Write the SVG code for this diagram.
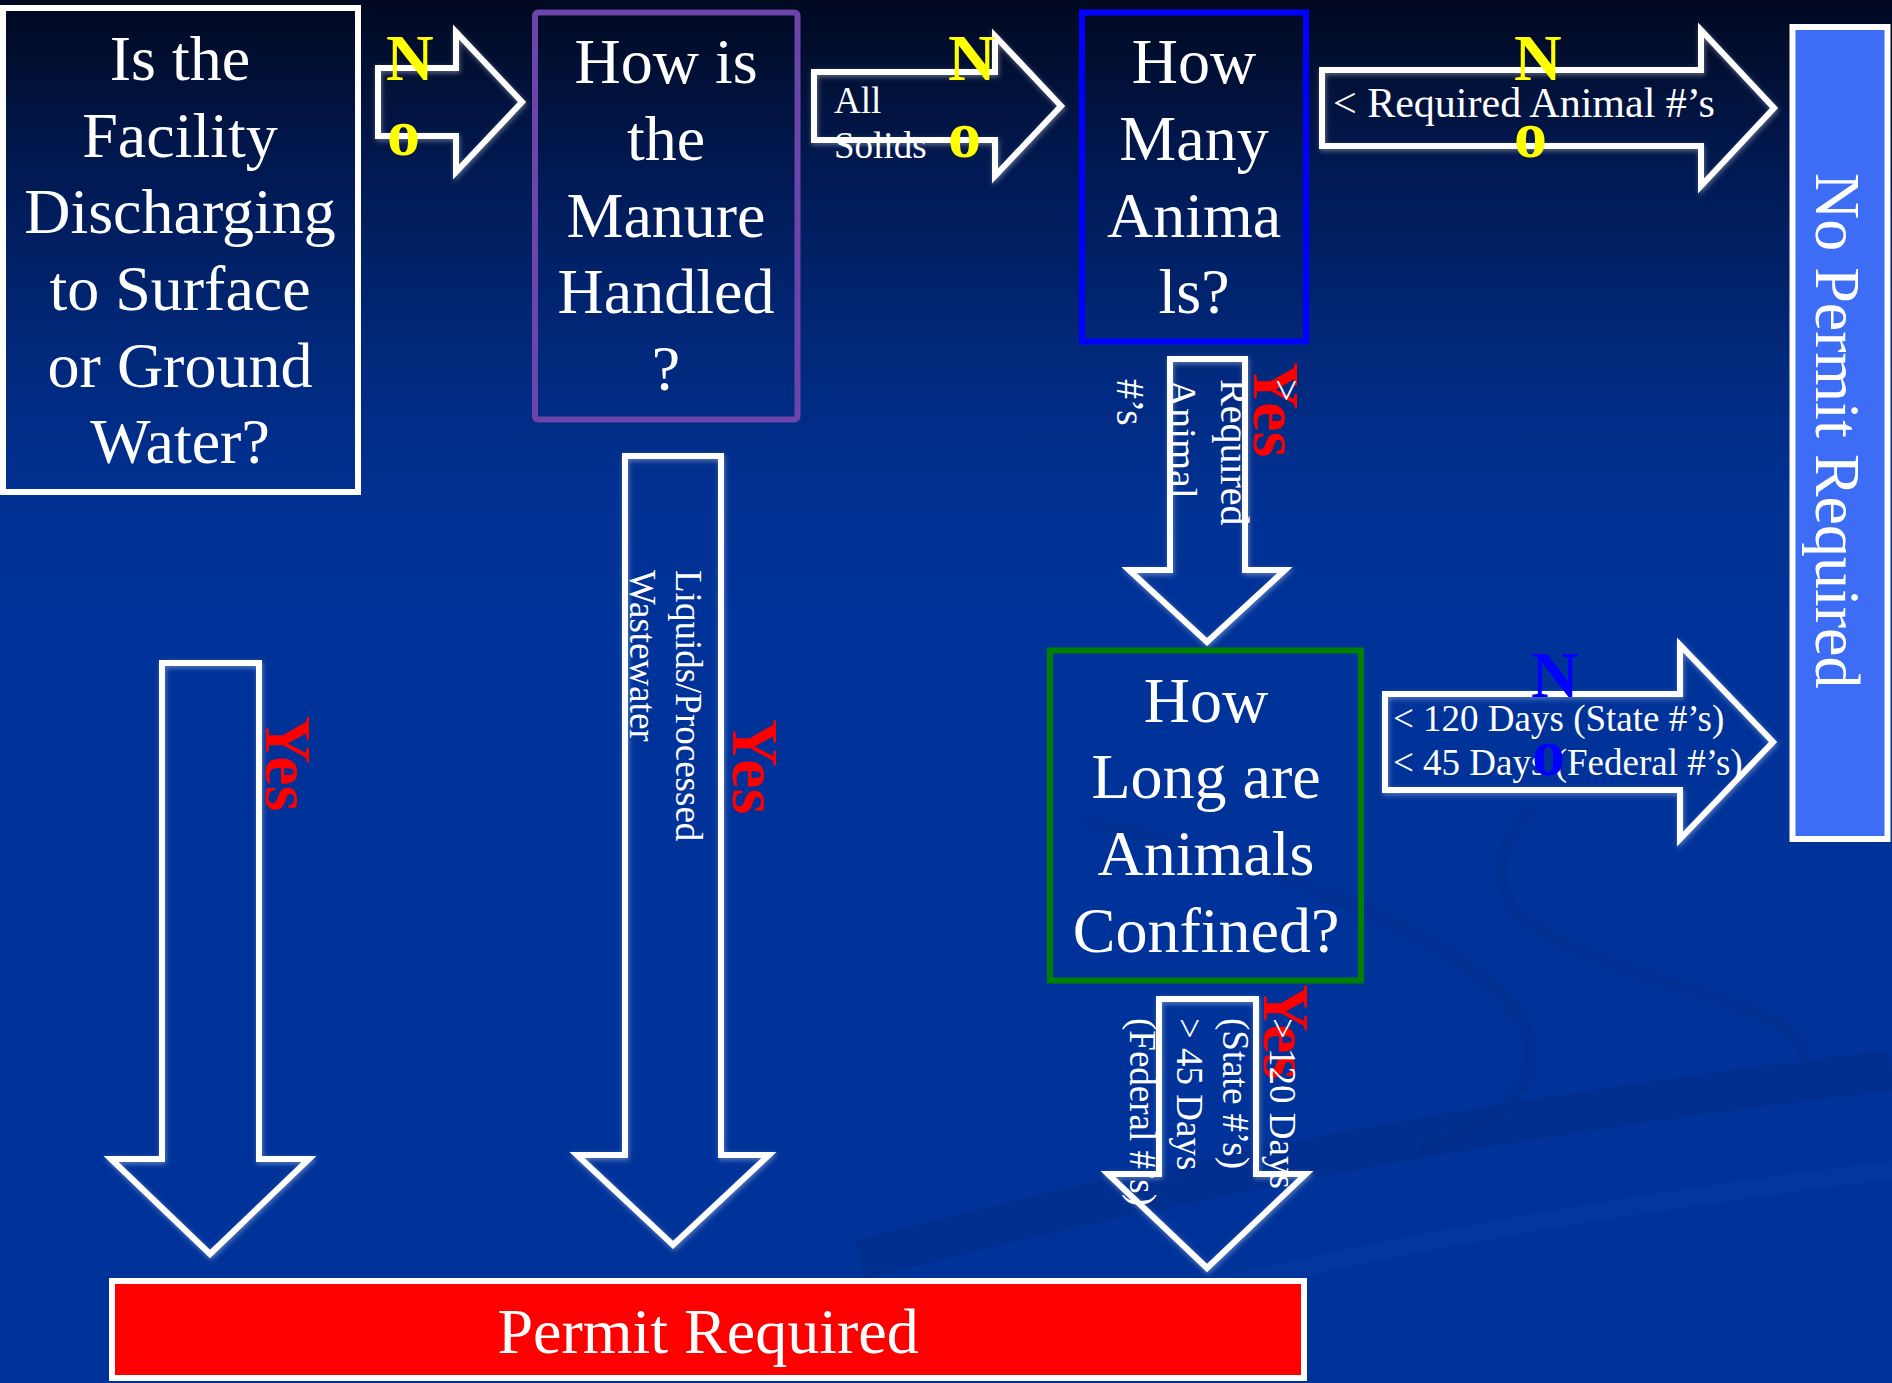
<svg xmlns="http://www.w3.org/2000/svg" width="1892" height="1383" viewBox="0 0 1892 1383">
<defs>
  <linearGradient id="bg" x1="0" y1="0" x2="0" y2="1383" gradientUnits="userSpaceOnUse">
    <stop offset="0" stop-color="#010920"/>
    <stop offset="0.13" stop-color="#011a55"/>
    <stop offset="0.26" stop-color="#01297c"/>
    <stop offset="0.36" stop-color="#003193"/>
    <stop offset="0.45" stop-color="#003399"/>
    <stop offset="1" stop-color="#003399"/>
  </linearGradient>
  <filter id="glow" x="-10%" y="-10%" width="120%" height="120%">
    <feGaussianBlur in="SourceAlpha" stdDeviation="2.5" result="b"/>
    <feOffset in="b" dx="1" dy="2" result="o"/>
    <feFlood flood-color="#ffffff" flood-opacity="0.35"/>
    <feComposite in2="o" operator="in" result="g"/>
    <feMerge><feMergeNode in="g"/><feMergeNode in="SourceGraphic"/></feMerge>
  </filter>
</defs>
<style>
  .arrow{fill:none;stroke:#ffffff;stroke-width:6;stroke-linejoin:miter;stroke-miterlimit:10}
  .q{font-family:"Liberation Serif","Times New Roman",serif;font-size:64px;fill:#ffffff;text-anchor:middle}
  .lbl{font-family:"Liberation Serif","Times New Roman",serif;fill:#ffffff}
  .no{font-family:"Liberation Serif","Times New Roman",serif;font-weight:bold;font-size:66px;fill:#ffff00}
  .noblue{font-family:"Liberation Serif","Times New Roman",serif;font-weight:bold;font-size:66px;fill:#0000ff}
  .yes{font-family:"Liberation Serif","Times New Roman",serif;font-weight:bold;font-size:66px;fill:#ff0000}
  .box{fill:none;stroke-width:6}
</style>

<rect x="0" y="0" width="1892" height="1383" fill="url(#bg)"/>
<g id="decor" fill="none">
  <path d="M 860 1260 C 1200 1170, 1550 1110, 1892 1070" stroke="#002a85" stroke-width="40" opacity="0.45"/>
  <path d="M 1120 1310 C 1400 1240, 1650 1200, 1892 1170" stroke="#0a40aa" stroke-width="18" opacity="0.35"/>
  <path d="M 1082 820 C 1250 860, 1440 920, 1515 1010 C 1560 1070, 1500 1130, 1420 1150" stroke="#002c88" stroke-width="14" opacity="0.45"/>
  <path d="M 1532 810 C 1490 850, 1490 900, 1540 930 C 1640 990, 1800 1000, 1805 1060" stroke="#002c88" stroke-width="12" opacity="0.4"/>
</g>

<g id="connectors" filter="url(#glow)">
  <path id="arrow-no1" class="arrow" d="M378,68 H456 V32 L522,102 L456,172 V136 H378 Z"/>
  <path id="arrow-solids" class="arrow" d="M814,72 H995 V36 L1061,106 L995,176 V140 H814 Z"/>
  <path id="arrow-animals-no" class="arrow" d="M1322,70 H1701 V30 L1774,108 L1701,186 V146 H1322 Z"/>
  <path id="arrow-days-no" class="arrow" d="M1385,694 H1680 V645 L1773,742 L1680,839 V790 H1385 Z"/>
  <path id="arrow-animals-yes" class="arrow" d="M1170,359 H1245 V570 H1285 L1207,642 L1129,570 H1170 Z"/>
  <path id="arrow-days-yes" class="arrow" d="M1159,999 H1256 V1174 H1306 L1207,1268 L1108,1174 H1159 Z"/>
  <path id="arrow-liquids" class="arrow" d="M625,456 H721 V1155 H769 L673,1245 L577,1155 H625 Z"/>
  <path id="arrow-discharge-yes" class="arrow" d="M162,663 H259 V1159 H309 L210,1254 L111,1159 H162 Z"/>
</g>

<g id="node-discharge">
  <rect class="box" x="3" y="8" width="355" height="484" stroke="#ffffff"/>
  <text class="q"><tspan x="180" y="80">Is the</tspan><tspan x="180" y="157">Facility</tspan><tspan x="180" y="233">Discharging</tspan><tspan x="180" y="310">to Surface</tspan><tspan x="180" y="387">or Ground</tspan><tspan x="180" y="463">Water?</tspan></text>
</g>

<g id="node-manure">
  <rect class="box" x="535" y="12.5" width="262.5" height="407" rx="3" stroke="#6b45aa"/>
  <text class="q"><tspan x="666" y="83">How is</tspan><tspan x="666" y="160">the</tspan><tspan x="666" y="237">Manure</tspan><tspan x="666" y="313">Handled</tspan><tspan x="666" y="390">?</tspan></text>
</g>

<g id="node-animals">
  <rect class="box" x="1082" y="12.5" width="224" height="329" stroke="#0000ff"/>
  <text class="q"><tspan x="1194" y="83">How</tspan><tspan x="1194" y="160">Many</tspan><tspan x="1194" y="237">Anima</tspan><tspan x="1194" y="313">ls?</tspan></text>
</g>

<g id="node-confined">
  <rect class="box" x="1050" y="650.5" width="311" height="330" stroke="#008000"/>
  <text class="q"><tspan x="1206" y="722">How</tspan><tspan x="1206" y="798">Long are</tspan><tspan x="1206" y="875">Animals</tspan><tspan x="1206" y="952">Confined?</tspan></text>
</g>

<g id="node-no-permit">
  <rect x="1792.5" y="27" width="95" height="812" fill="#3d6df5" stroke="#ffffff" stroke-width="6"/>
  <text class="lbl" font-size="64" transform="translate(1816,173) rotate(90)" x="0" y="0">No Permit Required</text>
</g>

<g id="node-permit">
  <rect x="112" y="1281" width="1192" height="97" fill="#ff0000" stroke="#ffffff" stroke-width="6"/>
  <text class="q" x="708" y="1353" font-size="66">Permit Required</text>
</g>

<g id="yes-labels">
  <text class="yes" transform="translate(266,716) rotate(90)">Yes</text>
  <text class="yes" transform="translate(733,719) rotate(90)">Yes</text>
  <text class="yes" transform="translate(1254,362) rotate(90)">Yes</text>
  <text class="yes" transform="translate(1264,984) rotate(90)">Yes</text>
</g>

<g id="connector-labels">
  <text class="lbl" font-size="37"><tspan x="834" y="113">All</tspan><tspan x="834" y="158">Solids</tspan></text>
  <text class="lbl" font-size="42" x="1333" y="117">&lt; Required Animal #’s</text>
  <text class="lbl" font-size="37"><tspan x="1393" y="731">&lt; 120 Days (State #’s)</tspan><tspan x="1393" y="775">&lt; 45 Days (Federal #’s)</tspan></text>
  <g class="lbl" font-size="37" transform="translate(676,570) rotate(90)">
    <text x="0" y="0">Liquids/Processed</text>
    <text x="0" y="46">Wastewater</text>
  </g>
  <g class="lbl" font-size="40" transform="translate(1273,379) rotate(90)">
    <text x="0" y="0">&gt;</text>
    <text x="0" y="52">Required</text>
    <text x="0" y="104">Animal</text>
    <text x="0" y="156">#’s</text>
  </g>
  <g class="lbl" font-size="37" transform="translate(1270,1018) rotate(90)">
    <text x="0" y="0">&gt; 120 Days</text>
    <text x="0" y="47">(State #’s)</text>
    <text x="0" y="93">&gt; 45 Days</text>
    <text x="0" y="140">(Federal #’s)</text>
  </g>
</g>

<g id="no-labels">
  <text class="no"><tspan x="386" y="80">N</tspan><tspan x="387" y="155">o</tspan></text>
  <text class="no"><tspan x="948" y="80">N</tspan><tspan x="948" y="157">o</tspan></text>
  <text class="no"><tspan x="1514" y="80">N</tspan><tspan x="1514" y="157">o</tspan></text>
  <text class="noblue"><tspan x="1531" y="697">N</tspan><tspan x="1532" y="775">o</tspan></text>
</g>
</svg>
